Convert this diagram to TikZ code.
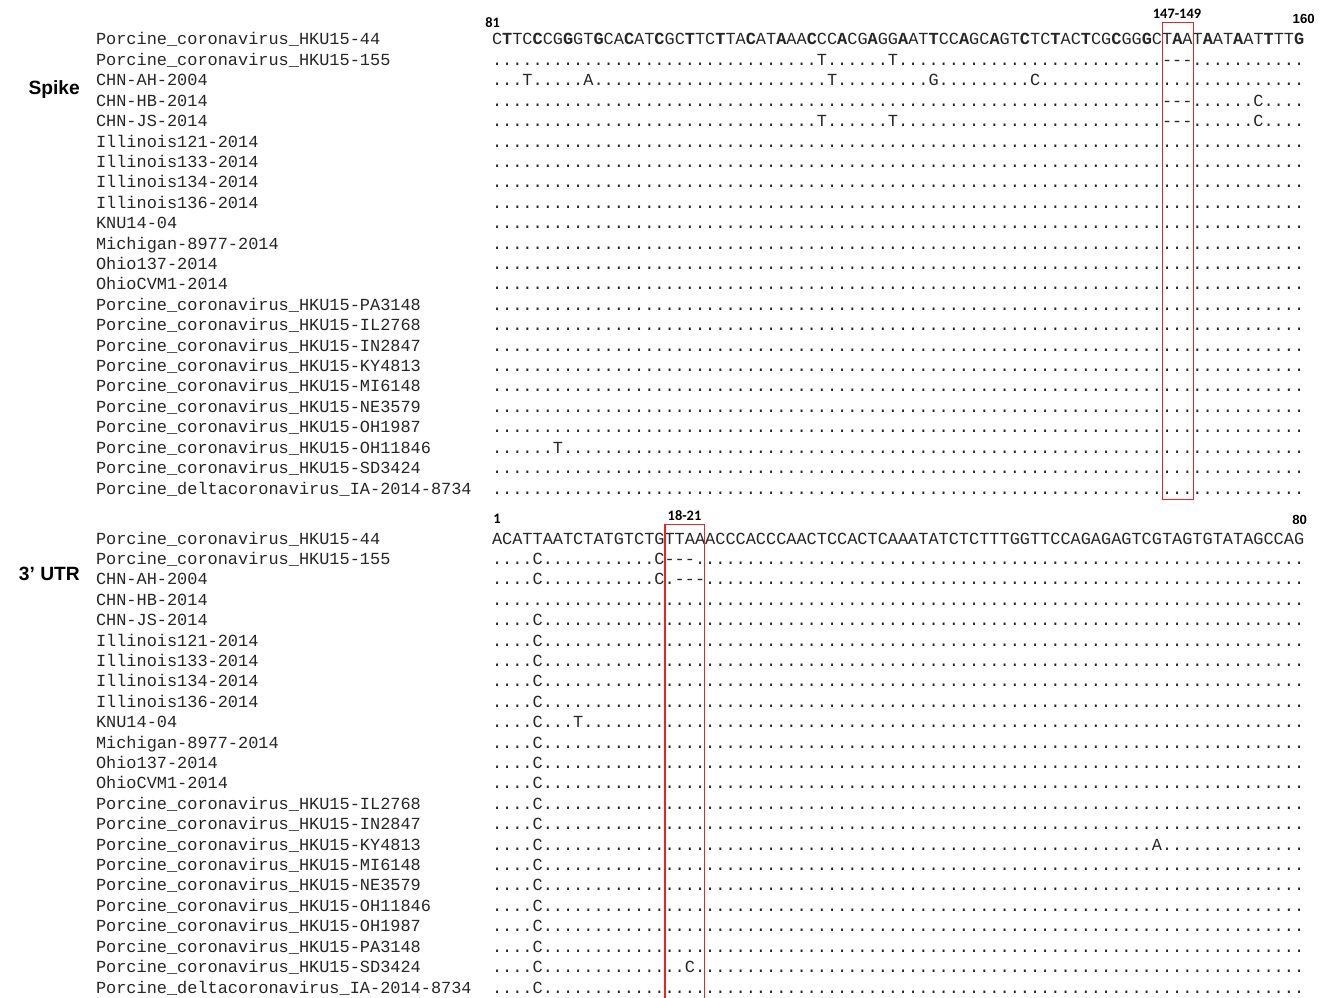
\documentclass[tikz,border=0pt]{standalone}
\usepackage{fontspec}
\setmainfont{Liberation Serif}
\setsansfont{Liberation Sans}
\setmonofont{Liberation Mono}
\newfontfamily\calibrifont{Carlito}
\definecolor{boxred}{RGB}{236,34,38}
\ExplSyntaxOn
\NewDocumentCommand\dts{m}{\prg_replicate:nn {#1} {.}}
\ExplSyntaxOff
\newcommand{\bnt}[1]{\textbf{#1}}

\begin{document}
\begin{tikzpicture}[
    x=0.75pt, y=-0.75pt,
    seqname/.style={anchor=base west, inner sep=0pt, outer sep=0pt, text=black!85, font=\ttfamily\fontsize{12.69}{14}\selectfont},
    seqrow/.style={seqname},
    region/.style={anchor=base east, inner sep=0pt, font=\sffamily\bfseries\fontsize{14.4}{16}\selectfont},
    posnum/.style={inner sep=0pt, font=\calibrifont\bfseries\fontsize{10.8}{12}\selectfont},
    endnum/.style={anchor=base east, inner sep=0pt, font=\sffamily\bfseries\fontsize{9.9}{12}\selectfont},
    gapbox/.style={draw=boxred, line width=1.15pt}
  ]

  % Page
  \fill[white] (0,0) rectangle (1325,998);
  \useasboundingbox (0,0) rectangle (1325,998);

  % Spike alignment
  \node[region] (spike) at (80,95) {Spike};
  \node[posnum, anchor=base west] (s81) at (485,27.3) {81};
  \node[posnum, anchor=base] (srange) at (1177,18.5) {147-149};
  \node[endnum] (s160) at (1315,23.3) {160};
  \foreach \nm/\sq [count=\i] in {
      Porcine\_coronavirus\_HKU15-44/C\bnt{T}TC\bnt{C}CG\bnt{G}GT\bnt{G}CA\bnt{C}AT\bnt{C}GC\bnt{T}TC\bnt{T}TA\bnt{C}AT\bnt{A}AA\bnt{C}CC\bnt{A}CG\bnt{A}GG\bnt{A}AT\bnt{T}CC\bnt{A}GC\bnt{A}GT\bnt{C}TC\bnt{T}AC\bnt{T}CG\bnt{C}GG\bnt{G}CT\bnt{A}AT\bnt{A}AT\bnt{A}AT\bnt{T}TT\bnt{G},
      Porcine\_coronavirus\_HKU15-155/\dts{32}T\dts{6}T\dts{26}-{}-{}-\dts{11},
      CHN-AH-2004/\dts{3}T\dts{5}A\dts{23}T\dts{9}G\dts{9}C\dts{26},
      CHN-HB-2014/\dts{66}-{}-{}-\dts{6}C\dts{4},
      CHN-JS-2014/\dts{32}T\dts{6}T\dts{26}-{}-{}-\dts{6}C\dts{4},
      Illinois121-2014/\dts{80},
      Illinois133-2014/\dts{80},
      Illinois134-2014/\dts{80},
      Illinois136-2014/\dts{80},
      KNU14-04/\dts{80},
      Michigan-8977-2014/\dts{80},
      Ohio137-2014/\dts{80},
      OhioCVM1-2014/\dts{80},
      Porcine\_coronavirus\_HKU15-PA3148/\dts{80},
      Porcine\_coronavirus\_HKU15-IL2768/\dts{80},
      Porcine\_coronavirus\_HKU15-IN2847/\dts{80},
      Porcine\_coronavirus\_HKU15-KY4813/\dts{80},
      Porcine\_coronavirus\_HKU15-MI6148/\dts{80},
      Porcine\_coronavirus\_HKU15-NE3579/\dts{80},
      Porcine\_coronavirus\_HKU15-OH1987/\dts{80},
      Porcine\_coronavirus\_HKU15-OH11846/\dts{6}T\dts{73},
      Porcine\_coronavirus\_HKU15-SD3424/\dts{80},
      Porcine\_deltacoronavirus\_IA-2014-8734/\dts{80}}
  {
    \node[seqname] (sn\i) at (96,{45+(\i-1)*20.41}) {\nm};
    \node[seqrow] (ss\i) at (492,{45+(\i-1)*20.41}) {\sq};
  }
  \draw[gapbox] (1162.5,22.3) rectangle (1193.3,499.3);

  % 3' UTR alignment
  \node[region] (utr) at (80,580) {3’ UTR};
  \node[posnum, anchor=base west] (u1) at (493,523.3) {1};
  \node[posnum, anchor=base] (urange) at (684.5,520) {18-21};
  \node[endnum] (u80) at (1307.3,524) {80};
  \foreach \nm/\sq [count=\i] in {
      Porcine\_coronavirus\_HKU15-44/ACATTAATCTATGTCTGTTAAACCCACCCAACTCCACTCAAATATCTCTTTGGTTCCAGAGAGTCGTAGTGTATAGCCAG,
      Porcine\_coronavirus\_HKU15-155/\dts{4}C\dts{11}C-{}-{}-\dts{60},
      CHN-AH-2004/\dts{4}C\dts{11}C.-{}-{}-\dts{59},
      CHN-HB-2014/\dts{80},
      CHN-JS-2014/\dts{4}C\dts{75},
      Illinois121-2014/\dts{4}C\dts{75},
      Illinois133-2014/\dts{4}C\dts{75},
      Illinois134-2014/\dts{4}C\dts{75},
      Illinois136-2014/\dts{4}C\dts{75},
      KNU14-04/\dts{4}C\dts{3}T\dts{71},
      Michigan-8977-2014/\dts{4}C\dts{75},
      Ohio137-2014/\dts{4}C\dts{75},
      OhioCVM1-2014/\dts{4}C\dts{75},
      Porcine\_coronavirus\_HKU15-IL2768/\dts{4}C\dts{75},
      Porcine\_coronavirus\_HKU15-IN2847/\dts{4}C\dts{75},
      Porcine\_coronavirus\_HKU15-KY4813/\dts{4}C\dts{60}A\dts{14},
      Porcine\_coronavirus\_HKU15-MI6148/\dts{4}C\dts{75},
      Porcine\_coronavirus\_HKU15-NE3579/\dts{4}C\dts{75},
      Porcine\_coronavirus\_HKU15-OH11846/\dts{4}C\dts{75},
      Porcine\_coronavirus\_HKU15-OH1987/\dts{4}C\dts{75},
      Porcine\_coronavirus\_HKU15-PA3148/\dts{4}C\dts{75},
      Porcine\_coronavirus\_HKU15-SD3424/\dts{4}C\dts{14}C\dts{60},
      Porcine\_deltacoronavirus\_IA-2014-8734/\dts{4}C\dts{75}}
  {
    \node[seqname] (un\i) at (96,{544+(\i-1)*20.41}) {\nm};
    \node[seqrow] (us\i) at (492,{544+(\i-1)*20.41}) {\sq};
  }
  \draw[gapbox] (665,524.3) rectangle (704.5,1005);

\end{tikzpicture}
\end{document}
